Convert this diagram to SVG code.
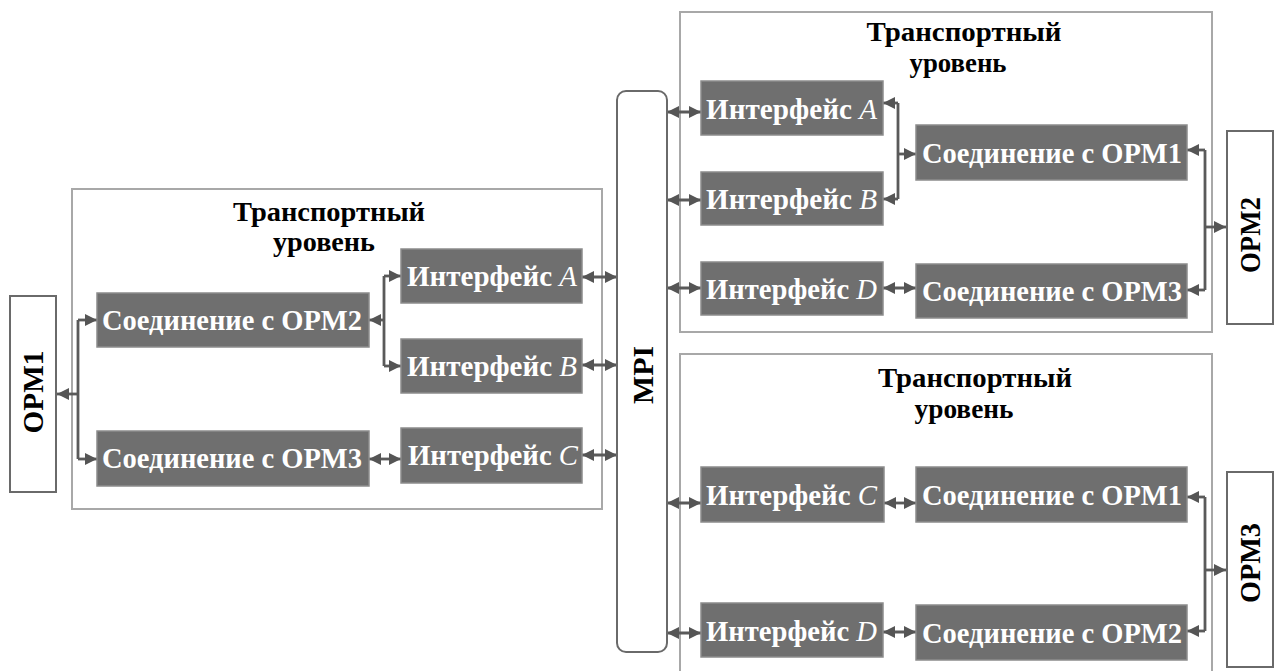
<svg xmlns="http://www.w3.org/2000/svg" width="1277" height="671" viewBox="0 0 1277 671">
<style>
.panel{fill:none;stroke:#a8a8a8;stroke-width:2}
.blk{fill:#6f6f6f;stroke:#8c8c8c;stroke-width:1.5}
.serif{font-family:'Liberation Serif','DejaVu Serif',serif}
.blkt{fill:#ffffff;font-weight:bold;font-size:29px}
.it{font-style:italic;font-weight:normal}
.ttl{fill:#000;font-weight:bold;font-size:27px;text-anchor:middle}
.opm{fill:#fff;stroke:#6a6a6a;stroke-width:2}
.opmt{fill:#000;font-weight:bold;font-size:29px;text-anchor:middle}
.c{fill:none;stroke:#5a5a5a;stroke-width:2.8}
.a1{marker-end:url(#ah)}
.a2{marker-start:url(#ah);marker-end:url(#ah)}
</style>
<defs>
<marker id="ah" viewBox="0 0 10 10" refX="10" refY="5" markerWidth="13" markerHeight="12" markerUnits="userSpaceOnUse" orient="auto-start-reverse">
<path d="M0,0 L10,5 L0,10 Z" fill="#555"/>
</marker>
</defs>
<rect width="1277" height="671" fill="#fff"/>

<g id="panel-left">
<rect class="panel" x="72" y="189" width="530" height="320"/>
<text class="ttl serif" x="329" y="221" textLength="192" lengthAdjust="spacingAndGlyphs">Транспортный</text>
<text class="ttl serif" x="324" y="251" textLength="102" lengthAdjust="spacingAndGlyphs">уровень</text>
</g>
<g id="panel-top-right">
<rect class="panel" x="680" y="12" width="532" height="320"/>
<text class="ttl serif" x="964" y="41" textLength="195" lengthAdjust="spacingAndGlyphs">Транспортный</text>
<text class="ttl serif" x="958" y="72" textLength="97" lengthAdjust="spacingAndGlyphs">уровень</text>
</g>
<g id="panel-bottom-right">
<rect class="panel" x="680" y="354" width="532" height="330"/>
<text class="ttl serif" x="975" y="387" textLength="194" lengthAdjust="spacingAndGlyphs">Транспортный</text>
<text class="ttl serif" x="964" y="418" textLength="99" lengthAdjust="spacingAndGlyphs">уровень</text>
</g>

<g id="connectors">
<path class="c" d="M78,320 V459"/>
<path class="c a1" d="M78,394 H57"/>
<path class="c a1" d="M78,320 H97"/>
<path class="c a1" d="M78,459 H97"/>
<path class="c" d="M384,276 V366"/>
<path class="c a1" d="M384,320 H369"/>
<path class="c a1" d="M384,276 H401"/>
<path class="c a1" d="M384,366 H401"/>
<path class="c a2" d="M369,459 H401"/>
<path class="c a2" d="M582,277 H617"/>
<path class="c a2" d="M582,365 H617"/>
<path class="c a2" d="M582,455 H617"/>
<path class="c a2" d="M667,112 H701"/>
<path class="c a2" d="M667,200 H701"/>
<path class="c a2" d="M667,288 H701"/>
<path class="c" d="M898,103 V199"/>
<path class="c a1" d="M898,103 H883"/>
<path class="c a1" d="M898,199 H883"/>
<path class="c a1" d="M898,154 H916"/>
<path class="c a2" d="M883,288 H916"/>
<path class="c" d="M1205,150 V290"/>
<path class="c a1" d="M1205,150 H1187"/>
<path class="c a1" d="M1205,290 H1187"/>
<path class="c a1" d="M1205,227 H1226"/>
<path class="c a2" d="M667,503 H701"/>
<path class="c a2" d="M667,633 H701"/>
<path class="c a2" d="M884,503 H916"/>
<path class="c a2" d="M883,632 H916"/>
<path class="c" d="M1205,497 V631"/>
<path class="c a1" d="M1205,497 H1187"/>
<path class="c a1" d="M1205,631 H1187"/>
<path class="c a1" d="M1205,570 H1226"/>
</g>

<g id="opm1">
<rect class="opm" x="10" y="296" width="46" height="196"/>
<text class="opmt serif" transform="translate(43,392) rotate(-90)" x="0" y="0" textLength="83" lengthAdjust="spacingAndGlyphs">OPM1</text>
</g>
<g id="opm2">
<rect class="opm" x="1227" y="131" width="46" height="193"/>
<text class="opmt serif" transform="translate(1260,235) rotate(-90)" x="0" y="0" textLength="76" lengthAdjust="spacingAndGlyphs">OPM2</text>
</g>
<g id="opm3">
<rect class="opm" x="1227" y="472" width="46" height="195"/>
<text class="opmt serif" transform="translate(1260,563) rotate(-90)" x="0" y="0" textLength="80" lengthAdjust="spacingAndGlyphs">OPM3</text>
</g>
<g id="mpi">
<rect class="opm" x="617" y="91" width="50" height="561" rx="9" ry="9"/>
<text class="opmt serif" transform="translate(653,375) rotate(-90)" x="0" y="0" textLength="58" lengthAdjust="spacingAndGlyphs">MPI</text>
</g>

<g id="l-conn-opm2">
<rect class="blk" x="97" y="293" width="272" height="54"/>
<text class="blkt serif" x="102" y="330" textLength="260" lengthAdjust="spacingAndGlyphs">Соединение с OPM2</text>
</g>
<g id="l-conn-opm3">
<rect class="blk" x="97" y="431" width="272" height="55"/>
<text class="blkt serif" x="102" y="468" textLength="260" lengthAdjust="spacingAndGlyphs">Соединение с OPM3</text>
</g>
<g id="l-if-a">
<rect class="blk" x="401" y="249" width="181" height="54"/>
<text class="blkt serif" x="407" y="286" textLength="170" lengthAdjust="spacingAndGlyphs">Интерфейс <tspan class="it">A</tspan></text>
</g>
<g id="l-if-b">
<rect class="blk" x="401" y="339" width="181" height="54"/>
<text class="blkt serif" x="407" y="376" textLength="170" lengthAdjust="spacingAndGlyphs">Интерфейс <tspan class="it">B</tspan></text>
</g>
<g id="l-if-c">
<rect class="blk" x="401" y="428" width="181" height="55"/>
<text class="blkt serif" x="408" y="465" textLength="170" lengthAdjust="spacingAndGlyphs">Интерфейс <tspan class="it">C</tspan></text>
</g>

<g id="tr-if-a">
<rect class="blk" x="701" y="81" width="182" height="54"/>
<text class="blkt serif" x="706" y="119" textLength="171" lengthAdjust="spacingAndGlyphs">Интерфейс <tspan class="it">A</tspan></text>
</g>
<g id="tr-if-b">
<rect class="blk" x="701" y="172" width="182" height="53"/>
<text class="blkt serif" x="706" y="209" textLength="171" lengthAdjust="spacingAndGlyphs">Интерфейс <tspan class="it">B</tspan></text>
</g>
<g id="tr-if-d">
<rect class="blk" x="701" y="262" width="182" height="53"/>
<text class="blkt serif" x="706" y="299" textLength="171" lengthAdjust="spacingAndGlyphs">Интерфейс <tspan class="it">D</tspan></text>
</g>
<g id="tr-conn-opm1">
<rect class="blk" x="916" y="125" width="271" height="55"/>
<text class="blkt serif" x="922" y="163" textLength="260" lengthAdjust="spacingAndGlyphs">Соединение с OPM1</text>
</g>
<g id="tr-conn-opm3">
<rect class="blk" x="916" y="264" width="271" height="54"/>
<text class="blkt serif" x="922" y="301" textLength="260" lengthAdjust="spacingAndGlyphs">Соединение с OPM3</text>
</g>

<g id="br-if-c">
<rect class="blk" x="701" y="467" width="183" height="55"/>
<text class="blkt serif" x="706" y="505" textLength="171" lengthAdjust="spacingAndGlyphs">Интерфейс <tspan class="it">C</tspan></text>
</g>
<g id="br-if-d">
<rect class="blk" x="701" y="603" width="182" height="54"/>
<text class="blkt serif" x="706" y="641" textLength="171" lengthAdjust="spacingAndGlyphs">Интерфейс <tspan class="it">D</tspan></text>
</g>
<g id="br-conn-opm1">
<rect class="blk" x="916" y="467" width="271" height="55"/>
<text class="blkt serif" x="922" y="505" textLength="260" lengthAdjust="spacingAndGlyphs">Соединение с OPM1</text>
</g>
<g id="br-conn-opm2">
<rect class="blk" x="916" y="605" width="271" height="55"/>
<text class="blkt serif" x="922" y="643" textLength="260" lengthAdjust="spacingAndGlyphs">Соединение с OPM2</text>
</g>
</svg>
